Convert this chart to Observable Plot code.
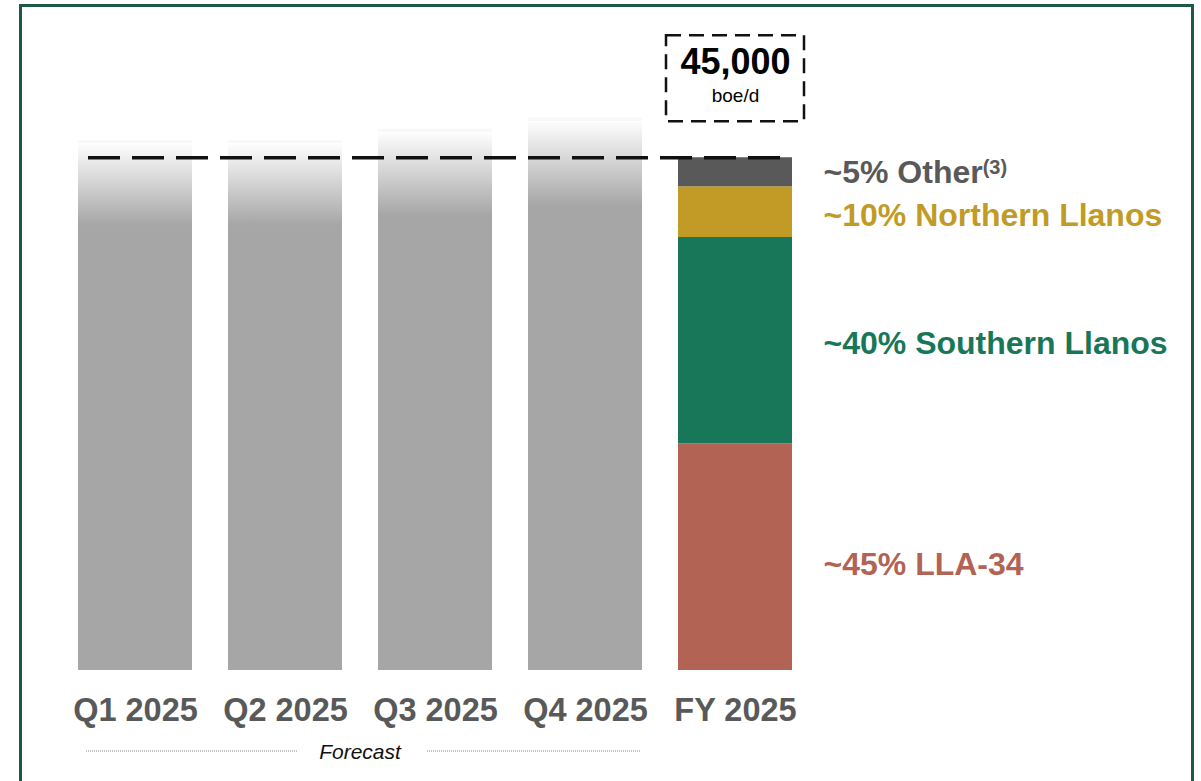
<!DOCTYPE html>
<html><head><meta charset="utf-8">
<script src="https://cdn.jsdelivr.net/npm/d3@7"></script>
<script src="https://cdn.jsdelivr.net/npm/@observablehq/plot@0.6"></script>
<style>
html,body{margin:0;padding:0;background:#fff;overflow:hidden;width:1201px;height:781px}
#frame{position:absolute;left:19px;top:4px;width:1175px;height:820px;border:3px solid #1d5a44;box-sizing:border-box}
#chart{position:absolute;left:0;top:0}
</style></head><body>
<div id="frame"></div><div id="chart"></div>
<script>
// ---- data ----
const quarters = ["Q1 2025", "Q2 2025", "Q3 2025", "Q4 2025"];
const quarterValues = [46500, 46500, 47500, 48500];   // faded forecast bars (boe/d)
const fyCategory = "FY 2025";
const fyTotal = 45000;                                   // boe/d
const segments = ["LLA-34", "Southern Llanos", "Northern Llanos", "Other"];
const segmentValues = [19900, 18100, 4450, 2550];
const segmentLabels = ["~45% LLA-34", "~40% Southern Llanos", "~10% Northern Llanos", "~5% Other"];
const segmentColors = ["#b26354", "#187758", "#c19b26", "#595959"];
const forecastLabel = "Forecast";
const unitLabel = "boe/d";

// ---- derived tables ----
const categories = [...quarters, fyCategory];
const qData = quarters.map((q, i) => ({cat: q, value: quarterValues[i]}));
const cum = d3.cumsum(segmentValues);
const fyData = segments.map((s, i) => ({
  cat: fyCategory, segment: s, value: segmentValues[i],
  mid: cum[i] - segmentValues[i] / 2, label: segmentLabels[i], color: segmentColors[i]
}));
const labelDy = {"LLA-34": 8, "Southern Llanos": 3, "Northern Llanos": 4, "Other": 0};

const font = "'Liberation Sans', Arial, Helvetica, sans-serif";

const plot = Plot.plot({
  width: 1201,
  height: 781,
  marginLeft: 41,
  marginRight: 371.5,
  marginTop: 0,
  marginBottom: 111,
  style: {fontFamily: font, background: "transparent", overflow: "visible"},
  x: {domain: categories, padding: 0.24, axis: null},
  y: {domain: [0, 58800], axis: null},
  marks: [
    Plot.barY(qData, {x: "cat", y: "value", fill: "url(#fade)"}),
    Plot.barY(fyData, {x: "cat", y: "value", fill: d => d.color}),
    Plot.ruleY([fyTotal], {stroke: "#111", strokeWidth: 3.5, strokeDasharray: "32,12", insetLeft: 47, insetRight: 49.5}),
    Plot.barY([fyTotal], {x: () => fyCategory, y1: d => d, y2: d => d,
      insetTop: -122, insetBottom: 36, insetLeft: -12, insetRight: -12,
      fill: "none", stroke: "#111", strokeWidth: 2.5, strokeDasharray: "15,8"}),
    Plot.text([fyTotal], {x: () => fyCategory, y: d => d, text: d => d3.format(",")(d),
      dy: -95, fontSize: 36, fontWeight: "bold", fill: "#000"}),
    Plot.text([fyTotal], {x: () => fyCategory, y: d => d, text: () => unitLabel,
      dy: -62, fontSize: 19, fill: "#000"}),
    ...fyData.map(d => Plot.text([d], {x: "cat", y: "mid", text: "label", fill: "color",
      textAnchor: "start", dx: 88, dy: labelDy[d.segment], fontSize: 32, fontWeight: "bold"})),
    Plot.text(categories, {x: d => d, frameAnchor: "bottom", lineAnchor: "top", dy: 27,
      fontSize: 32.5, fontWeight: "bold", fill: "#595959"})
  ]
});

const svg = d3.select(plot);
// gradient for the faded forecast bars
const grad = svg.insert("defs", ":first-child").append("linearGradient")
  .attr("id", "fade").attr("x1", 0).attr("y1", 0).attr("x2", 0).attr("y2", 1);
[[0, "#f8f8f8"], [0.006, "#f8f8f8"], [0.006, "#ffffff"], [0.013, "#fafafa"], [0.16, "#a6a6a6"], [1, "#a6a6a6"]]
  .forEach(([o, c]) => grad.append("stop").attr("offset", o).attr("stop-color", c));

// superscript on "Other"
svg.selectAll("text").filter(function () { return this.textContent === "~5% Other"; })
  .append("tspan").attr("dy", "-0.45em").attr("font-size", 20).text("(3)");

// Forecast annotation under the quarters
const xs = plot.scale("x");
const bw = xs.bandwidth;
const q1 = xs.apply(quarters[0]);
const q4 = xs.apply(quarters[quarters.length - 1]) + bw;
const mid = (xs.apply(quarters[1]) + xs.apply(quarters[2]) + bw) / 2;
const yF = 751;
const g = svg.append("g");
g.append("line").attr("x1", q1 + 8).attr("x2", mid - 62).attr("y1", yF).attr("y2", yF)
  .attr("stroke", "#8a8a8a").attr("stroke-width", 1).attr("stroke-dasharray", "1,1");
g.append("line").attr("x1", mid + 67).attr("x2", q4 - 2).attr("y1", yF).attr("y2", yF)
  .attr("stroke", "#8a8a8a").attr("stroke-width", 1).attr("stroke-dasharray", "1,1");
g.append("text").attr("x", mid).attr("y", yF + 8).attr("text-anchor", "middle")
  .attr("font-size", 21).attr("font-style", "italic").attr("fill", "#111")
  .attr("font-family", font).text(forecastLabel);

document.getElementById("chart").appendChild(plot);
</script>
</body></html>
